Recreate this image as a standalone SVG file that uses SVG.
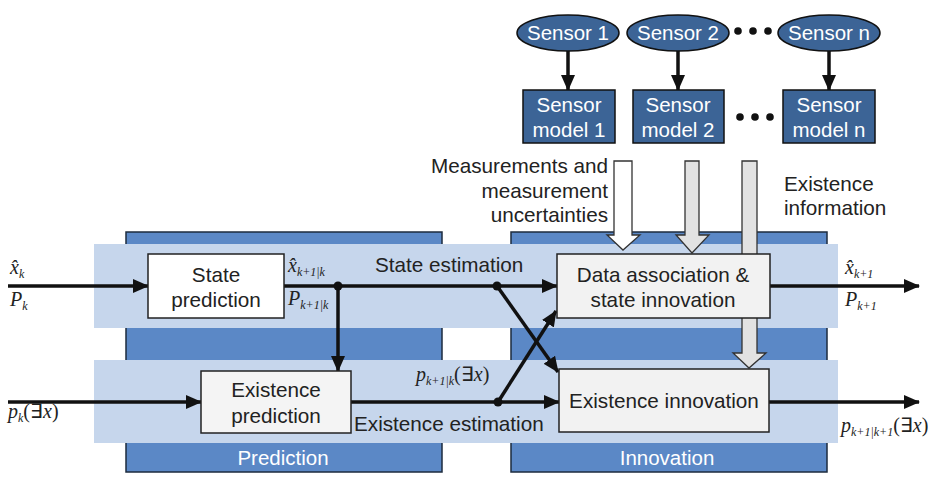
<svg xmlns="http://www.w3.org/2000/svg" width="936" height="477" viewBox="0 0 936 477">
<style>
.big{fill:#5b88c6;stroke:#1d2b3e;stroke-width:1.5}
.band{fill:#c6d6ec}
.box{stroke:#222;stroke-width:1.5}
.sens{fill:#3c6496;stroke:#111;stroke-width:1.5}
.t{font-family:"Liberation Sans",Arial,sans-serif;font-size:20.7px;fill:#222}
.w{font-family:"Liberation Sans",Arial,sans-serif;font-size:20.5px;fill:#fff}
.m{font-family:"Liberation Serif","Times New Roman",serif;font-style:italic;font-size:20px;fill:#222}
.s{font-size:12px}
.up{font-style:normal}
.ln{stroke:#111;stroke-width:3.5;fill:none}
.blk{stroke:#333;stroke-width:1.3}
</style>
<defs>
<marker id="ah" markerUnits="userSpaceOnUse" markerWidth="16" markerHeight="14" refX="15" refY="7" orient="auto">
<path d="M0,0 L16,7 L0,14 Z" fill="#111"/>
</marker>
</defs>
<rect width="936" height="477" fill="#fff"/>

<g id="prediction-group">
<rect class="big" x="126" y="232" width="316" height="240"/>
<text class="w" x="283" y="465" text-anchor="middle">Prediction</text>
</g>
<g id="innovation-group">
<rect class="big" x="511" y="232" width="316" height="240"/>
<text class="w" x="667" y="465" text-anchor="middle">Innovation</text>
</g>
<g id="bands">
<rect class="band" x="94" y="244" width="744" height="84"/>
<rect class="band" x="94" y="360" width="744" height="83"/>
</g>

<g id="block-arrows">
<path class="blk" d="M614,161 H632 V235 H640 L623,250 L607,235 H614 Z" fill="#fff"/>
<path class="blk" d="M685,161 H699 V235 H709 L692,253 L676,235 H685 Z" fill="#e2e2e2"/>
<path class="blk" d="M742,161 H757 V353 H766 L749,368 L733,353 H742 Z" fill="#e2e2e2"/>
</g>

<g id="connectors">
<line class="ln" x1="8" y1="286" x2="148" y2="286" marker-end="url(#ah)"/>
<line class="ln" x1="8" y1="402" x2="201" y2="402" marker-end="url(#ah)"/>
<line class="ln" x1="284" y1="286" x2="557" y2="286" marker-end="url(#ah)"/>
<line class="ln" x1="338" y1="286" x2="338" y2="371" marker-end="url(#ah)"/>
<line class="ln" x1="351" y1="402" x2="559" y2="402" marker-end="url(#ah)"/>
<line class="ln" x1="497" y1="286" x2="558" y2="372" marker-end="url(#ah)"/>
<line class="ln" x1="498" y1="402" x2="556" y2="311" marker-end="url(#ah)"/>
<line class="ln" x1="770" y1="286" x2="919" y2="286" marker-end="url(#ah)"/>
<line class="ln" x1="769" y1="402" x2="919" y2="402" marker-end="url(#ah)"/>
<circle cx="338" cy="286" r="4.5" fill="#111"/>
<circle cx="497" cy="286" r="4.5" fill="#111"/>
<circle cx="498" cy="402" r="4.5" fill="#111"/>
<line class="ln" x1="568" y1="51" x2="568" y2="90" marker-end="url(#ah)"/>
<line class="ln" x1="678" y1="51" x2="678" y2="90" marker-end="url(#ah)"/>
<line class="ln" x1="829" y1="51" x2="829" y2="90" marker-end="url(#ah)"/>
</g>

<g id="state-prediction">
<rect class="box" x="148" y="254" width="136" height="64" fill="#fff"/>
<text class="t" x="216" y="282" text-anchor="middle">State</text>
<text class="t" x="216" y="307" text-anchor="middle">prediction</text>
</g>
<g id="existence-prediction">
<rect class="box" x="201" y="371" width="150" height="62" fill="#f4f4f4"/>
<text class="t" x="276" y="397" text-anchor="middle">Existence</text>
<text class="t" x="276" y="423" text-anchor="middle">prediction</text>
</g>
<g id="data-association">
<rect class="box" x="557" y="254" width="213" height="64" fill="#f2f2f2"/>
<text class="t" x="663" y="282" text-anchor="middle">Data association &amp;</text>
<text class="t" x="663" y="307" text-anchor="middle">state innovation</text>
</g>
<g id="existence-innovation">
<rect class="box" x="559" y="369" width="210" height="63" fill="#f2f2f2"/>
<text class="t" x="664" y="408" text-anchor="middle">Existence innovation</text>
</g>

<g id="sensor-1">
<ellipse class="sens" cx="568" cy="33" rx="51" ry="18"/>
<text class="w" x="568" y="40" text-anchor="middle">Sensor 1</text>
</g>
<g id="sensor-2">
<ellipse class="sens" cx="678" cy="33" rx="51" ry="18"/>
<text class="w" x="678" y="40" text-anchor="middle">Sensor 2</text>
</g>
<g id="sensor-n">
<ellipse class="sens" cx="829" cy="33" rx="51" ry="18"/>
<text class="w" x="829" y="40" text-anchor="middle">Sensor n</text>
</g>
<g id="dots-top" fill="#111">
<circle cx="738" cy="31" r="3.8"/><circle cx="753" cy="31" r="3.8"/><circle cx="768" cy="31" r="3.8"/>
</g>
<g id="sensor-model-1">
<rect class="sens" x="523" y="90" width="92" height="53"/>
<text class="w" x="569" y="112" text-anchor="middle">Sensor</text>
<text class="w" x="569" y="137" text-anchor="middle">model 1</text>
</g>
<g id="sensor-model-2">
<rect class="sens" x="633" y="90" width="91" height="53"/>
<text class="w" x="678" y="112" text-anchor="middle">Sensor</text>
<text class="w" x="678" y="137" text-anchor="middle">model 2</text>
</g>
<g id="sensor-model-n">
<rect class="sens" x="783" y="90" width="92" height="53"/>
<text class="w" x="829" y="112" text-anchor="middle">Sensor</text>
<text class="w" x="829" y="137" text-anchor="middle">model n</text>
</g>
<g id="dots-mid" fill="#111">
<circle cx="740" cy="117" r="3.8"/><circle cx="755" cy="117" r="3.8"/><circle cx="770" cy="117" r="3.8"/>
</g>

<g id="labels">
<text class="t" x="608" y="173" text-anchor="end">Measurements and</text>
<text class="t" x="608" y="198" text-anchor="end">measurement</text>
<text class="t" x="608" y="222" text-anchor="end">uncertainties</text>
<text class="t" x="784" y="191">Existence</text>
<text class="t" x="784" y="215">information</text>
<text class="t" x="375" y="272">State estimation</text>
<text class="t" x="354" y="431">Existence estimation</text>

<text class="m" x="10" y="274">x̂<tspan class="s" dy="4">k</tspan></text>
<text class="m" x="10" y="306">P<tspan class="s" dy="4">k</tspan></text>
<text class="m" x="288" y="272">x̂<tspan class="s" dy="4">k+1|k</tspan></text>
<text class="m" x="288" y="305">P<tspan class="s" dy="4">k+1|k</tspan></text>
<text class="m" x="416" y="381">p<tspan class="s" dy="4">k+1|k</tspan><tspan class="up" dy="-4">(∃</tspan>x<tspan class="up">)</tspan></text>
<text class="m" x="845" y="274">x̂<tspan class="s" dy="4">k+1</tspan></text>
<text class="m" x="845" y="306">P<tspan class="s" dy="4">k+1</tspan></text>
<text class="m" x="841" y="432">p<tspan class="s" dy="4">k+1|k+1</tspan><tspan class="up" dy="-4">(∃</tspan>x<tspan class="up">)</tspan></text>
<text class="m" x="8" y="418">p<tspan class="s" dy="4">k</tspan><tspan class="up" dy="-4">(∃</tspan>x<tspan class="up">)</tspan></text>
</g>
</svg>
